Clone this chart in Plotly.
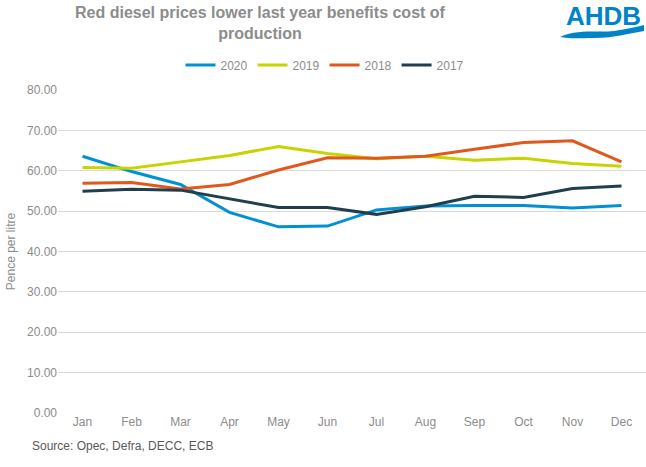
import plotly.graph_objects as go

months = ["Jan", "Feb", "Mar", "Apr", "May", "Jun", "Jul", "Aug", "Sep", "Oct", "Nov", "Dec"]
y2020 = [63.6, 59.8, 56.6, 49.7, 46.1, 46.3, 50.3, 51.3, 51.4, 51.4, 50.8, 51.4]
y2019 = [60.8, 60.6, 62.2, 63.8, 66.0, 64.3, 63.0, 63.6, 62.6, 63.1, 61.8, 61.1]
y2018 = [56.9, 57.1, 55.5, 56.6, 60.2, 63.2, 63.1, 63.6, 65.3, 67.0, 67.4, 62.2]
y2017 = [54.9, 55.4, 55.2, 53.0, 50.9, 50.9, 49.2, 51.1, 53.7, 53.4, 55.6, 56.2]

series = [("2020", y2020, "#0091D5"), ("2019", y2019, "#C8D400"),
          ("2018", y2018, "#E0581C"), ("2017", y2017, "#203F4E")]

W, H = 646, 467
L, R, T, B = 58, 0, 90, 54
pw, ph = W - L - R, H - T - B

def px(x):
    return (x - L) / pw

def py(y):
    return (H - B - y) / ph

fig = go.Figure()
for name, vals, col in series:
    fig.add_trace(go.Scatter(x=months, y=vals, name=name, mode="lines",
                             line=dict(color=col, width=3)))

gray = "#8C8C8C"
fig.update_layout(
    width=W, height=H,
    margin=dict(l=L, r=R, t=T, b=B, autoexpand=False),
    plot_bgcolor="white", paper_bgcolor="white",
    font=dict(family="Liberation Sans, Arial, sans-serif", size=12, color=gray),
    legend=dict(orientation="h", x=px(325), xanchor="center", y=py(65), yanchor="middle",
                font=dict(size=12, color=gray), itemwidth=30, traceorder="normal"),
    xaxis=dict(type="category", range=[-0.5, 11.5], showgrid=False, showline=False,
               ticks="", tickfont=dict(size=12, color=gray), automargin=False),
    yaxis=dict(range=[0, 80], dtick=10, tickformat=".2f", gridcolor="#D9D9D9",
               gridwidth=1, zeroline=False, showline=False, ticks="", automargin=False,
               tickfont=dict(size=12, color=gray),
               title=dict(text="Pence per litre", font=dict(size=12, color=gray), standoff=8)),
    showlegend=True,
)

fig.add_annotation(text="<b>Red diesel prices lower last year benefits cost of<br>production</b>",
                   xref="paper", yref="paper", x=px(260), y=py(2),
                   xanchor="center", yanchor="top", showarrow=False,
                   font=dict(size=16, color="#8C8C8C"))

fig.add_annotation(text="Source: Opec, Defra, DECC, ECB", xref="paper", yref="paper",
                   x=px(30), y=py(446), xanchor="left", yanchor="middle", showarrow=False,
                   font=dict(size=12, color="#595959"))

fig.add_annotation(text="<b>AHDB</b>", xref="paper", yref="paper",
                   x=px(643), y=py(16), xanchor="right", yanchor="middle", showarrow=False,
                   font=dict(size=26, color="#0084C9", family="Liberation Sans, Arial"))

pts = [(560, 37), (580, 28), (600, 34), (620, 30), (630, 28), (638, 27), (644, 25),
       (644, 31), (630, 33), (615, 38), (595, 38), (580, 38), (570, 39), (560, 37)]
p = [(px(a), py(b)) for a, b in pts]
path = ("M {} {} C {} {} {} {} {} {} C {} {} {} {} {} {} L {} {} C {} {} {} {} {} {} C {} {} {} {} {} {} Z"
        .format(*[v for xy in p for v in xy]))
fig.add_shape(type="path", path=path, xref="paper", yref="paper",
              fillcolor="#0084C9", line=dict(width=0), layer="above")

fig.write_html("out.html", config={"displayModeBar": False},
               post_script="document.body.style.margin='0px';")
